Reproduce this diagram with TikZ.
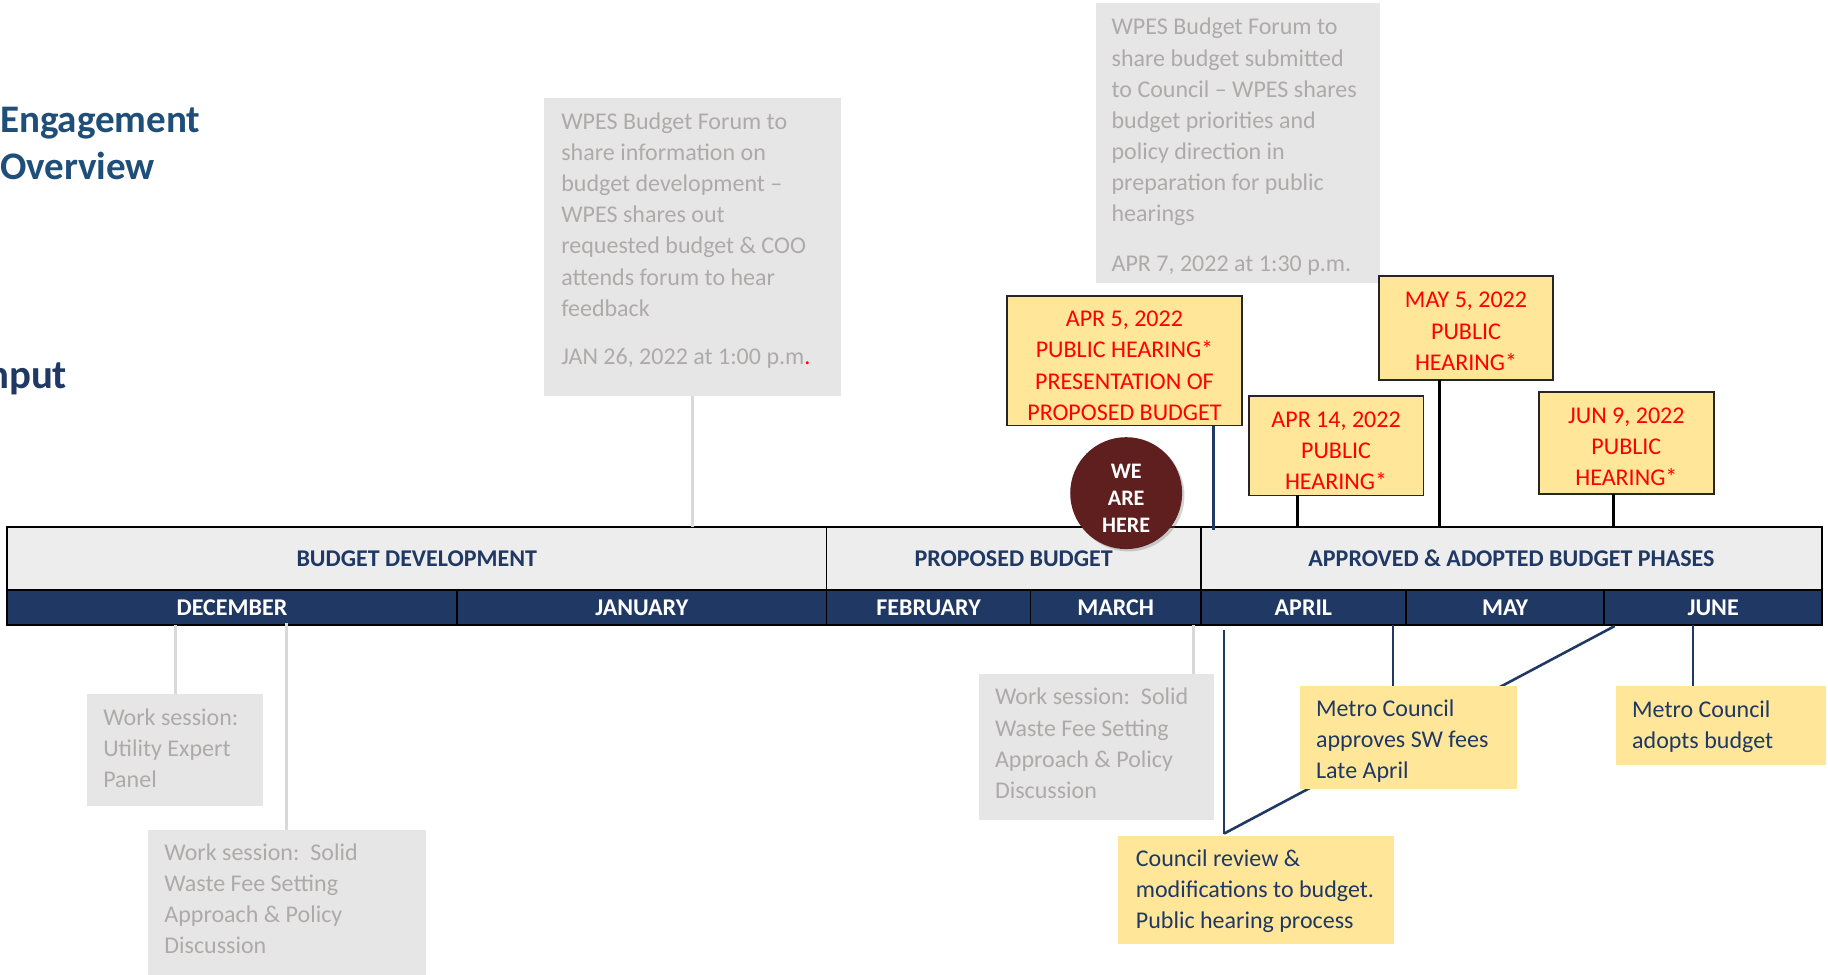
\documentclass[tikz,border=0pt]{standalone}
\usepackage{fontspec}
\setmainfont{Carlito}
\usetikzlibrary{shadows,calc}
\definecolor{grayfill}{HTML}{E6E6E6}
\definecolor{graytxt}{HTML}{AEAAAA}
\definecolor{grayline}{HTML}{D9D9D9}
\definecolor{yel}{HTML}{FFE699}
\definecolor{navy}{HTML}{1F3864}
\definecolor{titleblue}{HTML}{1F4E79}
\definecolor{phasefill}{HTML}{EDEDED}
\definecolor{monthfill}{HTML}{203864}
\definecolor{maroonc}{HTML}{5F1F1F}
\definecolor{redtxt}{HTML}{FF0000}
\frenchspacing
\newcommand{\resetsp}{\spaceskip=0pt\xspaceskip=0pt\relax}
\newcommand{\ctrlines}[1]{\begin{tabular}[t]{@{}c@{}}#1\end{tabular}}
\begin{document}
\begin{tikzpicture}[x=1pt,y=-1pt,
  every node/.style={inner sep=0pt, outer sep=0pt},
  basefont/.style={font=\fontsize{20.6}{26.7}\selectfont},
  graybox/.style={anchor=north west, fill=grayfill},
  yelbox/.style={anchor=north west, fill=yel},
  hearbox/.style={anchor=north west, fill=yel, draw=black!85, line width=1.6pt},
  graytext/.style={basefont, text=graytxt, anchor=base west, align=left, text width=260pt},
  navytext/.style={basefont, text=navy, anchor=base west, align=left, text width=260pt},
  redtext/.style={basefont, text=redtxt, anchor=base},
  phase/.style={anchor=north west, fill=phasefill, draw=black, line width=1.2pt,
    font=\bfseries\fontsize{20.6}{24}\selectfont, text=navy, minimum height=54pt},
  month/.style={anchor=north west, fill=monthfill, draw=black, line width=1.2pt,
    font=\bfseries\fontsize{20.6}{24}\selectfont, text=white, minimum height=30pt},
  grayconn/.style={draw=grayline, line width=2.6pt},
  navyconn/.style={draw=navy, line width=2.2pt},
  blackconn/.style={draw=black, line width=2.8pt}
]
\useasboundingbox (0,0) rectangle (1568,835.5);

% titles
\node[anchor=base west, font=\bfseries\fontsize{33.5}{40}\selectfont, text=titleblue,
  align=left, text width=300pt] (title) at (0,114) {Engagement\\Overview};
\node[anchor=base east, font=\bfseries\fontsize{35}{40}\selectfont, text=navy] (inp) at (57.5,333) {Input};

% top gray forum boxes
\node[graybox, minimum width=254pt, minimum height=256pt] (f1) at (467,84) {};
\node[graytext] (f1t) at (481.5,111) {\resetsp WPES Budget Forum to\\share information on\\budget development –\\WPES shares out\\requested budget \& COO\\attends forum to hear\\feedback\\[14.7pt]JAN 26, 2022 at 1:00 p.m\textcolor{redtxt}{.}};
\node[graybox, minimum width=244pt, minimum height=240pt] (f2) at (940,3) {};
\node[graytext] (f2t) at (953.5,30) {\resetsp WPES Budget Forum to\\share budget submitted\\to Council – WPES shares\\budget priorities and\\policy direction in\\preparation for public\\hearings\\[16pt]APR 7, 2022 at 1:30 p.m.};

% hearing boxes
\node[hearbox, minimum width=201pt, minimum height=111pt] (ph1) at (864,254) {};
\node[redtext] (ph1t) at (964.5,280.3) {\ctrlines{APR 5, 2022\\PUBLIC HEARING*\\PRESENTATION OF\\PROPOSED BUDGET}};
\node[hearbox, minimum width=150pt, minimum height=85pt] (ph2) at (1071,340) {};
\node[redtext] (ph2t) at (1146,366.7) {\ctrlines{APR 14, 2022\\PUBLIC\\HEARING*}};
\node[hearbox, minimum width=149pt, minimum height=89pt] (ph3) at (1183,237) {};
\node[redtext] (ph3t) at (1257.5,264.1) {\ctrlines{MAY 5, 2022\\PUBLIC\\HEARING*}};
\node[hearbox, minimum width=150pt, minimum height=88pt] (ph4) at (1320,336) {};
\node[redtext] (ph4t) at (1395,363.1) {\ctrlines{JUN 9, 2022\\PUBLIC\\HEARING*}};

% timeline
\node[phase, minimum width=703pt] (bd) at (6,452) {BUDGET DEVELOPMENT};
\node[phase, minimum width=321pt] (pb) at (709,452) {PROPOSED BUDGET};
\node[phase, minimum width=533pt] (aa) at (1030,452) {APPROVED \& ADOPTED BUDGET PHASES};
\node[month, minimum width=386pt] (dec) at (6,506) {DECEMBER};
\node[month, minimum width=317pt] (jan) at (392,506) {JANUARY};
\node[month, minimum width=175pt] (feb) at (709,506) {FEBRUARY};
\node[month, minimum width=146pt] (mar) at (884,506) {MARCH};
\node[month, minimum width=176pt] (apr) at (1030,506) {APRIL};
\node[month, minimum width=170pt] (may) at (1206,506) {MAY};
\node[month, minimum width=187pt] (jun) at (1376,506) {JUNE};
\draw[line width=2.2pt] (bd.north west) rectangle (jun.south east);

% connectors above timeline
\draw[grayconn] (f1.south) -- (f1.south |- bd.north);
\coordinate (ph1c) at ($(ph1.south east)+(-24,0)$);
\draw[navyconn] (ph1c) -- ($(ph1c |- aa.north)+(0,3)$);
\coordinate (ph2c) at ($(ph2.south west)+(42,0)$);
\draw[blackconn] (ph2c) -- (ph2c |- aa.north);
\coordinate (ph3c) at ($(ph3.south west)+(52,0)$);
\draw[blackconn] (ph3c) -- (ph3c |- aa.north);
\coordinate (ph4c) at ($(ph4.south west)+(64,0)$);
\draw[blackconn] (ph4c) -- (ph4c |- aa.north);

% we are here
\node[circle, fill=maroonc, minimum size=96pt,
  drop shadow={opacity=0.35, shadow xshift=2pt, shadow yshift=-2pt}] (here) at (966,423) {};
\node[font=\bfseries\fontsize{19}{23}\selectfont, text=white, align=center] (heretxt) at (966,427.5) {WE\\ARE\\HERE};

% lower boxes
\node[graybox, minimum width=151pt, minimum height=96pt] (ws1) at (75,595) {};
\node[graytext] (ws1t) at (88.6,622) {\resetsp Work session:\\Utility Expert\\Panel};
\node[graybox, minimum width=238pt, minimum height=125pt] (ws2) at (127,712) {};
\node[graytext] (ws2t) at (141,737.7) {\resetsp Work session:~ Solid\\Waste Fee Setting\\Approach \& Policy\\Discussion};
\node[graybox, minimum width=201pt, minimum height=125pt] (ws3) at (840,578) {};
\node[graytext] (ws3t) at (853.5,604.7) {\resetsp Work session:~ Solid\\Waste Fee Setting\\Approach \& Policy\\Discussion};

\draw[grayconn] (ws1.north) -- (ws1.north |- dec.south);
\draw[grayconn] (ws2.north) -- ($(ws2.north |- dec.south)+(0,-2)$);
\coordinate (ws3c) at ($(ws3.north east)+(-17,0)$);
\draw[grayconn] (ws3c) -- (ws3c |- mar.south);

\node[yelbox, minimum width=237pt, minimum height=93pt] (cr) at (959,717) {};
\coordinate (crc) at ($(cr.north west)+(91,-2)$);
\draw[navyconn] (crc) -- ($(crc |- apr.south)+(0,4)$);
\draw[navyconn] (crc) -- ($(may.south east)+(9,1)$);
\node[navytext] (crt) at (974.3,743.4) {\resetsp Council review \&\\modifications to budget.\\Public hearing process};

\node[yelbox, minimum width=186pt, minimum height=89pt] (mc1) at (1115,588) {};
\coordinate (mc1c) at ($(mc1.north west)+(80,0)$);
\draw[navyconn] (mc1c) -- (mc1c |- may.south);
\node[navytext] (mc1t) at (1128.9,614.7) {\resetsp Metro Council\\approves SW fees\\Late April};

\node[yelbox, minimum width=180pt, minimum height=68pt] (mc2) at (1386,588) {};
\coordinate (mc2c) at ($(mc2.north west)+(66,0)$);
\draw[navyconn] (mc2c) -- (mc2c |- jun.south);
\node[navytext] (mc2t) at (1400,615.6) {\resetsp Metro Council\\adopts budget};
\end{tikzpicture}
\end{document}
